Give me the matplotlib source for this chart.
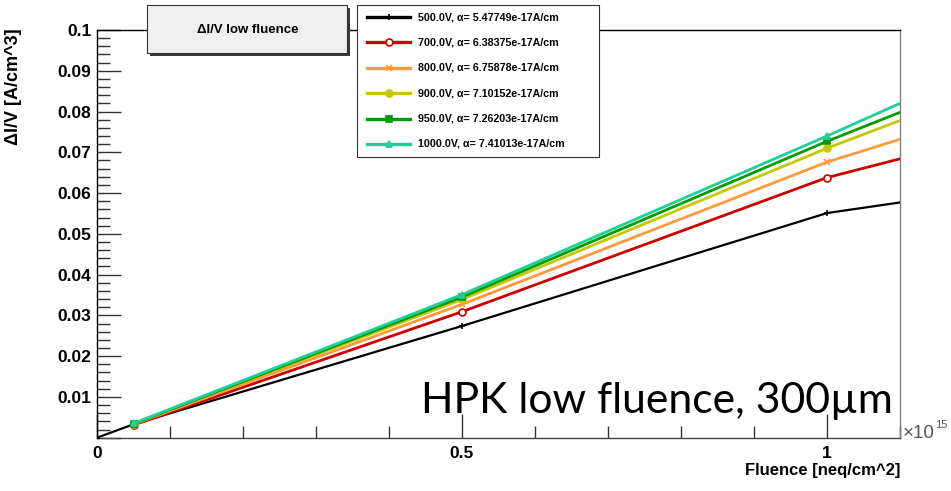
import matplotlib.pyplot as plt
from matplotlib.patches import Rectangle
from matplotlib.lines import Line2D
import numpy as np

# fluence in units of 1e15 neq/cm^2
fluence = [0.0, 0.05, 0.5, 1.0, 1.1]
voltages = [500, 700, 800, 900, 950, 1000]
alphas = ['5.47749e-17', '6.38375e-17', '6.75878e-17',
          '7.10152e-17', '7.26203e-17', '7.41013e-17']

# delta I / V [A/cm^3] per bias voltage
didv_500 = [0.0, 0.0033, 0.0274, 0.0551, 0.0577]
didv_700 = [np.nan, 0.0031, 0.0309, 0.0638, 0.0684]
didv_800 = [np.nan, 0.0033, 0.0327, 0.0676, 0.0732]
didv_900 = [np.nan, 0.0034, 0.0339, 0.0710, 0.0778]
didv_950 = [np.nan, 0.0034, 0.0345, 0.0727, 0.0798]
didv_1000 = [np.nan, 0.0035, 0.0351, 0.0740, 0.0820]
series = [didv_500, didv_700, didv_800, didv_900, didv_950, didv_1000]

colors = ['#000000', '#cc0000', '#ff9a3c', '#c8c800', '#009c00', '#1ecf9c']
markers = ['+', 'o', 'x', 'o', 's', '^']
filled = [True, False, True, True, True, True]

W, H = 951, 491


def fx(x):
    return x / W


def fy(y):
    return 1 - y / H


fig = plt.figure(figsize=(9.51, 4.91), dpi=100)
ax = fig.add_axes([fx(97), fy(437.7), (900 - 97) / W, (437.7 - 30) / H])

bold = dict(family='Liberation Sans', weight='bold')

for vals, c, m, f in zip(series, colors, markers, filled):
    ax.plot(fluence, vals, color=c, lw=2.0 if c != '#000000' else 1.6,
            marker=m, ms=5, mew=1.2, markevery=[0, 1, 2, 3],
            mfc=c if f else 'white', mec=c, zorder=3, clip_on=True)

ax.set_xlim(0, 1.1)
ax.set_ylim(0, 0.1)

# axes frame
for s in ['left', 'bottom', 'top']:
    ax.spines[s].set_color('black')
    ax.spines[s].set_linewidth(1.0)
ax.spines['bottom'].set_color('#444444')
ax.spines['right'].set_color('#808080')
ax.spines['right'].set_linewidth(1.0)

ax.set_xticks([0, 0.5, 1.0])
ax.set_xticklabels(['0', '0.5', '1'])
ax.set_xticks(np.arange(0, 1.11, 0.1), minor=True)
ax.set_yticks(np.arange(0, 0.1001, 0.01))
ax.set_yticklabels([''] + ['%g' % v for v in np.arange(0.01, 0.1001, 0.01).round(2)])
ax.set_yticks(np.arange(0, 0.1001, 0.002), minor=True)
ax.tick_params(which='major', direction='in', length=17, width=1.0, color='#333333')
ax.tick_params(which='minor', direction='in', length=9, width=1.0, color='#333333')
ax.tick_params(axis='y', which='major', pad=4)
ax.tick_params(axis='x', which='major', pad=6)
for lab in ax.get_xticklabels() + ax.get_yticklabels():
    lab.set_fontfamily('Liberation Sans')
    lab.set_fontweight('bold')
    lab.set_fontsize(12.5)

fig.text(fx(14), fy(28), 'ΔI/V [A/cm^3]', rotation=90, ha='center', va='top',
         fontsize=13, **bold)
fig.text(fx(900), fy(470), 'Fluence [neq/cm^2]', ha='right', va='center',
         fontsize=12, **bold)
fig.text(fx(903), fy(433), '×10', ha='left', va='center', fontsize=13.5,
         color='#555555', family='Liberation Sans')
fig.text(fx(935), fy(425), '15', ha='left', va='center', fontsize=8,
         color='#555555', family='Liberation Sans')

# title box with shadow
fig.add_artist(Rectangle((fx(150), fy(56)), (347 - 147) / W, (53 - 5) / H,
                         transform=fig.transFigure, facecolor='#3a3a3a',
                         edgecolor='none', zorder=5))
fig.add_artist(Rectangle((fx(147), fy(53)), (347 - 147) / W, (53 - 5) / H,
                         transform=fig.transFigure, facecolor='#f0f0f0',
                         edgecolor='#333333', lw=0.8, zorder=6))
fig.text(fx(248), fy(30), 'ΔI/V low fluence', ha='center', va='center',
         fontsize=9.5, zorder=7, **bold)

# legend box
fig.add_artist(Rectangle((fx(357), fy(157)), (599 - 357) / W, (157 - 5) / H,
                         transform=fig.transFigure, facecolor='white',
                         edgecolor='#333333', lw=0.8, zorder=6))
for i, (v, a, c, m, f) in enumerate(zip(voltages, alphas, colors, markers, filled)):
    yc = 17 + 25.4 * i
    fig.add_artist(Line2D([fx(367), fx(410)], [fy(yc), fy(yc)],
                          transform=fig.transFigure, color=c, lw=2.4, zorder=7))
    fig.add_artist(Line2D([fx(388.5)], [fy(yc)], transform=fig.transFigure,
                          marker=m, ms=5, mew=1.2, mec=c,
                          mfc=c if f else 'white', color=c, zorder=8))
    fig.text(fx(418), fy(yc), '%.1fV, α= %sA/cm' % (v, a), ha='left',
             va='center', fontsize=7.7, zorder=8, **bold)

fig.text(fx(893), fy(413), 'HPK low fluence, 300µm', ha='right',
         va='baseline', fontsize=30.8, family=['Lato', 'DejaVu Sans'], zorder=4)

fig.savefig('out.png', dpi=100)
